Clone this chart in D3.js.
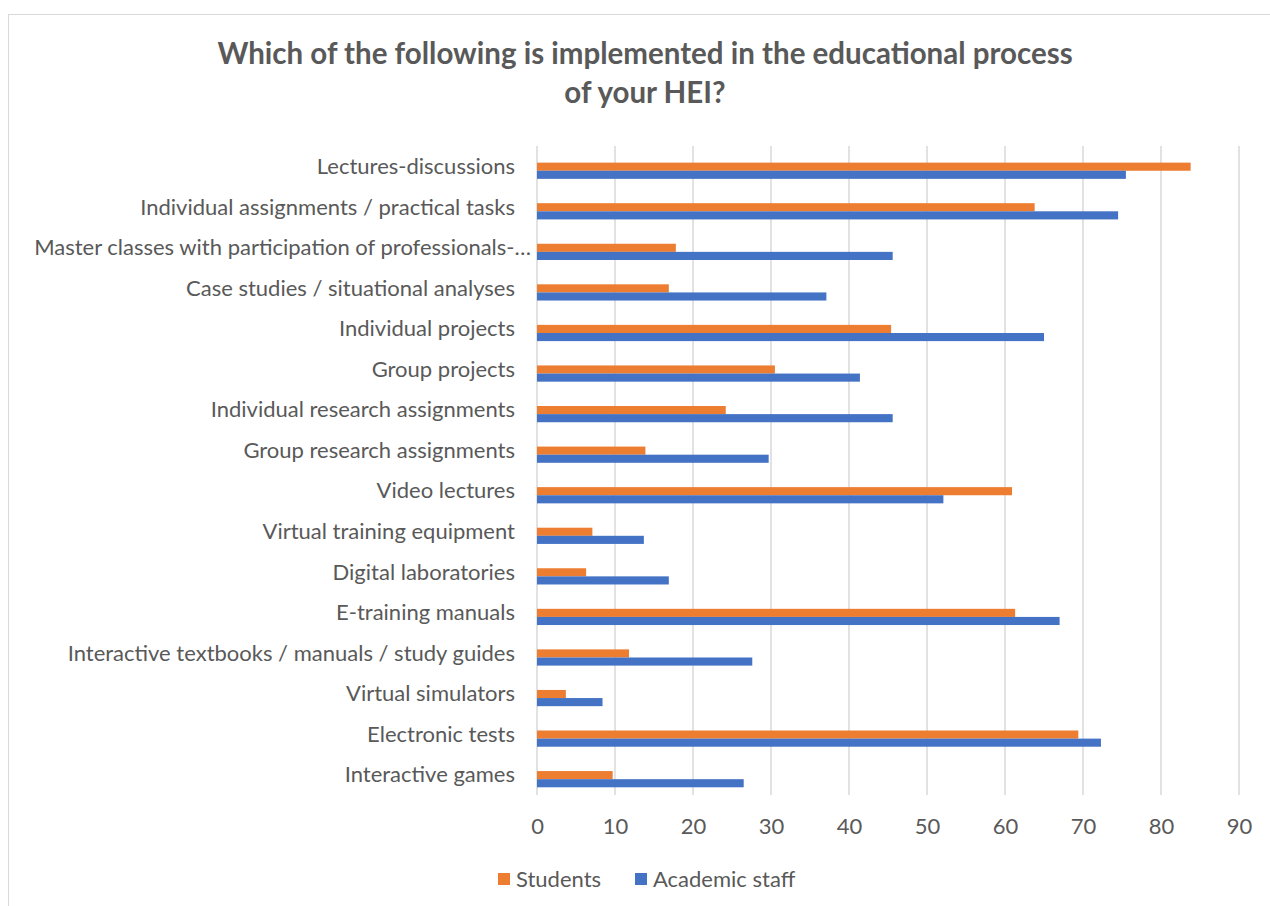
<!DOCTYPE html>
<html lang="en">
<head>
    <meta charset="UTF-8">
    <title>Educational process chart</title>
    <script src="https://cdn.jsdelivr.net/npm/d3@7"></script>
    <style>
        body { margin: 0; background: #fff; }
        svg { display: block; }
        text { font-family: Lato, "Open Sans", sans-serif; fill: #595959; }
    </style>
</head>
<body>
<div id="chart-space"></div>
<script>
    // chart data
    var categories = [
        "Lectures-discussions",
        "Individual assignments / practical tasks",
        "Master classes with participation of professionals-…",
        "Case studies / situational analyses",
        "Individual projects",
        "Group projects",
        "Individual research assignments",
        "Group research assignments",
        "Video lectures",
        "Virtual training equipment",
        "Digital laboratories",
        "E-training manuals",
        "Interactive textbooks / manuals / study guides",
        "Virtual simulators",
        "Electronic tests",
        "Interactive games"
    ];
    var students = [83.8, 63.8, 17.8, 16.9, 45.4, 30.5, 24.2, 13.9, 60.9, 7.1, 6.3, 61.3, 11.8, 3.7, 69.4, 9.7];
    var academicStaff = [75.5, 74.5, 45.6, 37.1, 65.0, 41.4, 45.6, 29.7, 52.1, 13.7, 16.9, 67.0, 27.6, 8.4, 72.3, 26.5];
    var seriesNames = ["Students", "Academic staff"];
    var xTicks = [0, 10, 20, 30, 40, 50, 60, 70, 80, 90];
    var titleLines = ["Which of the following is implemented in the educational process", "of your HEI?"];

    var width = 1270;
    var height = 906;
    var colors = {"Students": "#ED7D31", "Academic staff": "#4472C4"};

    var rows = categories.map(function(c, i) {
        return {category: c, "Students": students[i], "Academic staff": academicStaff[i]};
    });

    var svg = d3.select("#chart-space")
                .append("svg")
                .attr("width", width)
                .attr("height", height);

    // chart frame
    svg.append("rect")
        .attr("x", 8.5).attr("y", 14.5)
        .attr("width", 1400).attr("height", 1000)
        .attr("fill", "none")
        .attr("stroke", "#d9d9d9");

    // title
    svg.selectAll(".title")
        .data(titleLines)
        .join("text")
        .attr("class", "title")
        .attr("x", 645)
        .attr("y", function(d, i) { return 64 + i * 39; })
        .attr("text-anchor", "middle")
        .style("font-size", "29.5px")
        .style("font-weight", "bold")
        .text(function(d) { return d; });

    var xScale = d3.scaleLinear()
                    .domain([0, 90])
                    .range([537, 1239]);

    var yScale = d3.scaleBand()
                    .domain(categories)
                    .range([146, 795]);

    var bw = yScale.bandwidth();
    var subScale = d3.scaleBand()
                    .domain(seriesNames)
                    .range([bw * 0.41, bw * 0.81]);

    // gridlines
    svg.append("g")
        .selectAll("line")
        .data(xTicks)
        .join("line")
        .attr("x1", function(d) { return xScale(d); })
        .attr("x2", function(d) { return xScale(d); })
        .attr("y1", 146)
        .attr("y2", 795)
        .attr("stroke", "#d9d9d9")
        .attr("stroke-width", 1.5);

    // x axis labels
    var xAxis = d3.axisBottom(xScale)
                    .tickValues(xTicks)
                    .tickSize(0)
                    .tickPadding(0);
    var gx = svg.append("g")
        .attr("transform", "translate(0,826)")
        .call(xAxis);
    gx.select(".domain").remove();
    gx.selectAll("text")
        .attr("dy", "0.35em")
        .style("font-size", "22px")
        .style("font-family", "Lato, 'Open Sans', sans-serif")
        .attr("fill", "#595959");

    // category labels
    svg.append("g")
        .selectAll("text")
        .data(categories)
        .join("text")
        .attr("x", function(d) { return d.slice(-1) === "…" ? 531 : 515; })
        .attr("y", function(d) { return yScale(d) + bw / 2; })
        .attr("dy", "0.35em")
        .attr("text-anchor", "end")
        .style("font-size", "22px")
        .text(function(d) { return d; });

    // bars
    var groups = svg.append("g")
        .selectAll("g")
        .data(rows)
        .join("g")
        .attr("transform", function(d) { return "translate(0," + yScale(d.category) + ")"; });

    groups.selectAll("rect")
        .data(function(d) { return seriesNames.map(function(s) { return {key: s, value: d[s]}; }); })
        .join("rect")
        .attr("x", xScale(0))
        .attr("y", function(d) { return subScale(d.key); })
        .attr("width", function(d) { return xScale(d.value) - xScale(0); })
        .attr("height", subScale.bandwidth())
        .attr("fill", function(d) { return colors[d.key]; });

    // legend
    var legendX = [498, 635];
    var legend = svg.append("g")
        .selectAll("g")
        .data(seriesNames)
        .join("g")
        .attr("transform", function(d, i) { return "translate(" + legendX[i] + ",873)"; });
    legend.append("rect")
        .attr("width", 12).attr("height", 12)
        .attr("fill", function(d) { return colors[d]; });
    legend.append("text")
        .attr("x", 18)
        .attr("y", 6)
        .attr("dy", "0.35em")
        .style("font-size", "22px")
        .text(function(d) { return d; });
</script>
</body>
</html>
